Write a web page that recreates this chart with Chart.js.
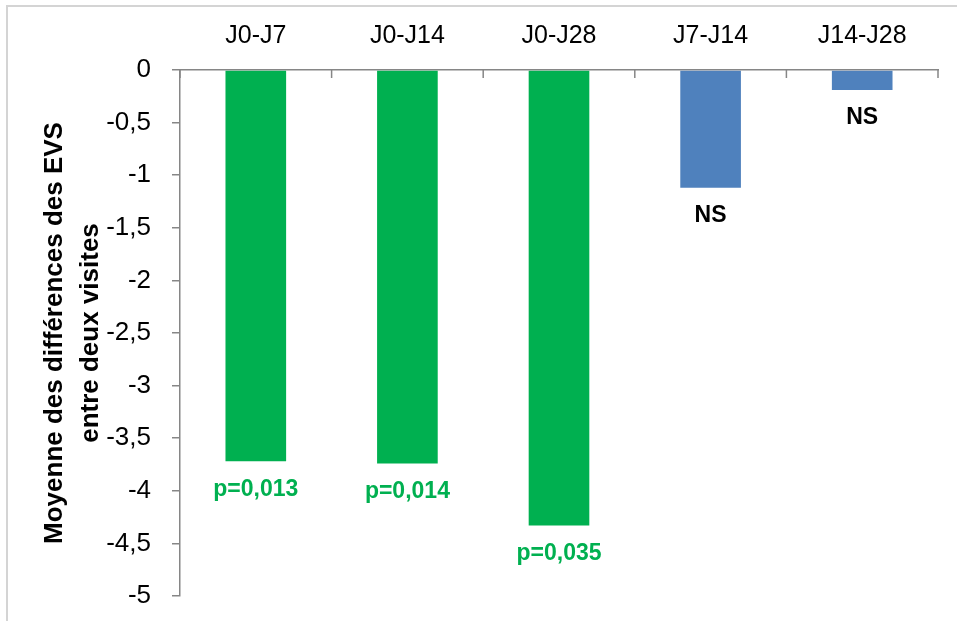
<!DOCTYPE html>
<html>
<head>
<meta charset="utf-8">
<script src="https://cdn.jsdelivr.net/npm/chart.js@4.4.1/dist/chart.umd.min.js"></script>
<style>
html,body{margin:0;padding:0;background:#fff;overflow:hidden}
#wrap{position:relative;width:957px;height:621px}
#frame{position:absolute;left:6px;top:5px;width:1000px;height:700px;border:2px solid #d4d4d4;box-sizing:border-box}
canvas{position:absolute;left:0;top:0}
</style>
</head>
<body>
<div id="wrap"><div id="frame"></div><canvas id="myChart" width="957" height="621"></canvas></div>
<script>
const categories = ['J0-J7', 'J0-J14', 'J0-J28', 'J7-J14', 'J14-J28']
const meanDiff = [-3.72, -3.74, -4.33, -1.12, -0.19]
const barLabels = ['p=0,013', 'p=0,014', 'p=0,035', 'NS', 'NS']
const barColors = ['#00B050', '#00B050', '#00B050', '#4F81BD', '#4F81BD']
const labelColors = ['#00B050', '#00B050', '#00B050', '#000000', '#000000']
const yTitle = ['Moyenne des différences des EVS', 'entre deux visites']
const yMin = -5
const yMax = 0
const yStep = 0.5

const fontFam = 'Arial, "Liberation Sans", sans-serif'
const axisGray = '#868686'

// labels under the end of each bar
const barLabelPlugin = {
    id: 'barLabels',
    afterDatasetsDraw(chart) {
        const ctx = chart.ctx
        const meta = chart.getDatasetMeta(0)
        ctx.save()
        ctx.font = 'bold 23px ' + fontFam
        ctx.textAlign = 'center'
        ctx.textBaseline = 'middle'
        meta.data.forEach((bar, i) => {
            ctx.fillStyle = labelColors[i]
            ctx.fillText(barLabels[i], bar.x, bar.y + 28)
        })
        ctx.restore()
    }
}

// tick marks of the category axis point down into the plot
const xTickPlugin = {
    id: 'xTicksDown',
    afterDraw(chart) {
        const ctx = chart.ctx
        const xs = chart.scales.x
        const top = chart.chartArea.top
        ctx.save()
        ctx.strokeStyle = axisGray
        ctx.lineWidth = 1.5
        for (let i = 0; i <= categories.length; i++) {
            const x = xs.getPixelForValue(i - 0.5)
            ctx.beginPath()
            ctx.moveTo(x, top)
            ctx.lineTo(x, top + 8)
            ctx.stroke()
        }
        ctx.restore()
    }
}

const data = {
    labels: categories,
    datasets: [{
        data: meanDiff,
        backgroundColor: barColors,
        borderWidth: 0,
        barPercentage: 0.4,
        categoryPercentage: 1
    }]
}

const config = {
    type: 'bar',
    data: data,
    options: {
        responsive: false,
        animation: false,
        layout: { padding: { left: 0, right: 19, top: 0, bottom: 25 } },
        plugins: {
            legend: { display: false },
            tooltip: { enabled: false }
        },
        scales: {
            x: {
                position: 'top',
                grid: { display: false, drawTicks: false },
                border: { display: true, color: axisGray, width: 1.5 },
                ticks: { color: '#000', font: { size: 25, family: fontFam }, padding: 19 },
                afterFit: s => { s.height = 70; s.paddingLeft = 0; s.paddingRight = 0 }
            },
            y: {
                min: yMin,
                max: yMax,
                ticks: {
                    stepSize: yStep,
                    color: '#000',
                    font: { size: 26, family: fontFam },
                    padding: 21,
                    callback: v => String(v).replace('.', ',')
                },
                grid: { drawOnChartArea: false, color: axisGray, lineWidth: 1.5, tickLength: 8 },
                border: { color: axisGray, width: 1.5 },
                title: {
                    display: true,
                    text: yTitle,
                    color: '#000',
                    font: { size: 26, weight: 'bold', family: fontFam, lineHeight: 1.38 },
                    padding: { top: 37, bottom: 0 }
                },
                afterFit: s => { s.width = 180; s.paddingTop = 0; s.paddingBottom = 0 }
            }
        }
    },
    plugins: [barLabelPlugin, xTickPlugin]
}

new Chart(document.getElementById('myChart'), config)
</script>
</body>
</html>
